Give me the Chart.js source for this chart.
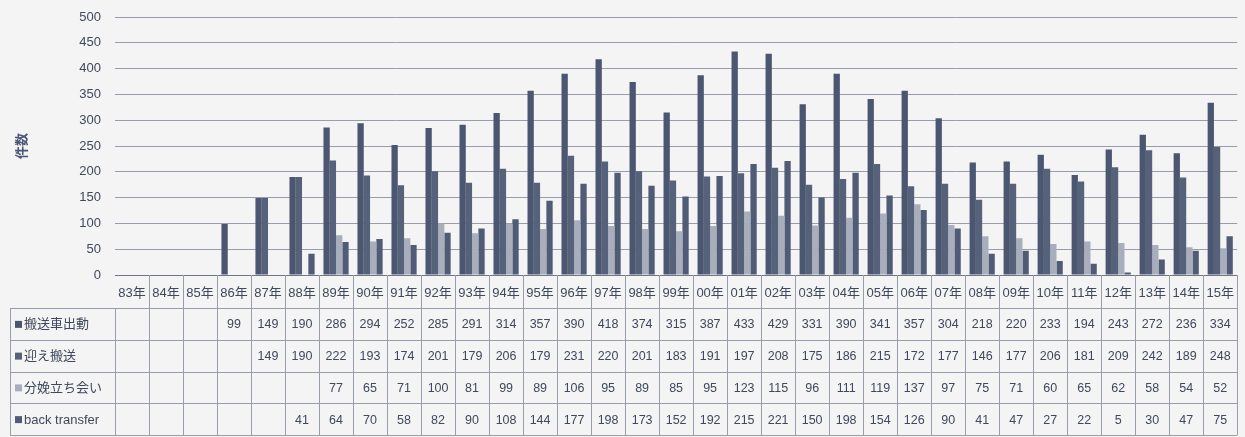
<!DOCTYPE html>
<html>
<head>
<meta charset="utf-8">
<script src="https://cdn.jsdelivr.net/npm/chart.js@4/dist/chart.umd.min.js"></script>
<style>
  body { margin: 0; background: #f4f4f4; }
  #wrap { width: 1245px; height: 437px; }
</style>
</head>
<body>
<div id="wrap"><canvas id="chart1" width="1245" height="437"></canvas></div>
<script>
const years = ["83年", "84年", "85年", "86年", "87年", "88年", "89年", "90年", "91年", "92年", "93年",
  "94年", "95年", "96年", "97年", "98年", "99年", "00年", "01年", "02年", "03年", "04年", "05年",
  "06年", "07年", "08年", "09年", "10年", "11年", "12年", "13年", "14年", "15年"];

const dispatch = [null, null, null, 99, 149, 190, 286, 294, 252, 285, 291, 314, 357, 390, 418, 374,
  315, 387, 433, 429, 331, 390, 341, 357, 304, 218, 220, 233, 194, 243, 272, 236, 334];
const pickup = [null, null, null, null, 149, 190, 222, 193, 174, 201, 179, 206, 179, 231, 220, 201,
  183, 191, 197, 208, 175, 186, 215, 172, 177, 146, 177, 206, 181, 209, 242, 189, 248];
const delivery = [null, null, null, null, null, null, 77, 65, 71, 100, 81, 99, 89, 106, 95, 89,
  85, 95, 123, 115, 96, 111, 119, 137, 97, 75, 71, 60, 65, 62, 58, 54, 52];
const backTransfer = [null, null, null, null, null, 41, 64, 70, 58, 82, 90, 108, 144, 177, 198, 173,
  152, 192, 215, 221, 150, 198, 154, 126, 90, 41, 47, 27, 22, 5, 30, 47, 75];

const seriesNames = ["搬送車出動", "迎え搬送", "分娩立ち会い", "back transfer"];
const seriesColors = ["#4b5671", "#56617a", "#a8aebb", "#505b75"];

const textColor = "#3f485c";
const lineColor = "#979daa";
const fontStack = "'Liberation Sans', 'Noto Sans CJK JP', sans-serif";

// draws the Excel-like data table under the x axis
const dataTable = {
  id: "dataTable",
  afterDraw(chart) {
    const ctx = chart.ctx;
    const x = chart.scales.x;
    const area = chart.chartArea;
    const n = years.length;
    const w = (area.right - area.left) / n;
    const tableTop = 308;
    const rowH = 31.75;
    const tableLeft = 10;
    const rows = [dispatch, pickup, delivery, backTransfer];

    ctx.save();
    ctx.strokeStyle = lineColor;
    ctx.lineWidth = 1;
    ctx.beginPath();
    // header dividers
    for (let i = 1; i <= n; i++) {
      const bx = Math.round(area.left + i * w) + 0.5;
      ctx.moveTo(bx, area.bottom);
      ctx.lineTo(bx, tableTop);
    }
    // body grid
    for (let k = 0; k <= rows.length; k++) {
      const y = Math.round(tableTop + k * rowH) + 0.5;
      ctx.moveTo(tableLeft, y);
      ctx.lineTo(area.right, y);
    }
    const tableBottom = tableTop + rows.length * rowH;
    ctx.moveTo(tableLeft + 0.5, tableTop);
    ctx.lineTo(tableLeft + 0.5, tableBottom);
    for (let i = 0; i <= n; i++) {
      const bx = Math.round(area.left + i * w) + 0.5;
      ctx.moveTo(bx, tableTop);
      ctx.lineTo(bx, tableBottom);
    }
    ctx.stroke();

    ctx.textBaseline = "middle";
    rows.forEach((vals, r) => {
      const cy = tableTop + r * rowH + rowH / 2 + 1;
      // legend key + name
      ctx.fillStyle = seriesColors[r];
      ctx.fillRect(15, cy - 4, 7, 7);
      ctx.fillStyle = textColor;
      ctx.font = "13px " + fontStack;
      ctx.textAlign = "left";
      ctx.fillText(seriesNames[r], 24, cy);
      // values
      ctx.font = "12.5px " + fontStack;
      ctx.textAlign = "center";
      vals.forEach((v, i) => {
        if (v === null) return;
        ctx.fillText(String(v), x.getPixelForValue(i), cy);
      });
    });
    ctx.restore();
  },
};

new Chart("chart1", {
  type: "bar",
  data: {
    labels: years,
    datasets: [
      { label: seriesNames[0], data: dispatch, backgroundColor: seriesColors[0] },
      { label: seriesNames[1], data: pickup, backgroundColor: seriesColors[1] },
      { label: seriesNames[2], data: delivery, backgroundColor: seriesColors[2] },
      { label: seriesNames[3], data: backTransfer, backgroundColor: seriesColors[3] },
    ],
  },
  options: {
    responsive: false,
    animation: false,
    layout: { padding: { top: 17, right: 3, left: 0, bottom: 0 } },
    datasets: {
      bar: { categoryPercentage: 0.74, barPercentage: 1.0 },
    },
    plugins: {
      legend: { display: false },
      tooltip: { enabled: false },
    },
    scales: {
      x: {
        grid: { display: false, drawTicks: false },
        border: { color: "#6f7584" },
        ticks: {
          color: textColor,
          font: { family: fontStack, size: 13 },
          padding: 11,
          maxRotation: 0,
          autoSkip: false,
        },
        afterFit(scale) { scale.height = 162; },
      },
      y: {
        min: 0,
        max: 500,
        ticks: {
          stepSize: 50,
          color: textColor,
          font: { family: fontStack, size: 13 },
          padding: 14,
        },
        grid: { color: lineColor, drawTicks: false },
        border: { display: false },
        title: {
          display: true,
          text: "件数",
          color: "#4a5676",
          font: { family: fontStack, size: 13, weight: "bold" },
          padding: { top: 15, bottom: 0 },
        },
        afterFit(scale) {
          scale.width = 115;
          scale.paddingTop = 0;
        },
      },
    },
  },
  plugins: [dataTable],
});
</script>
</body>
</html>
